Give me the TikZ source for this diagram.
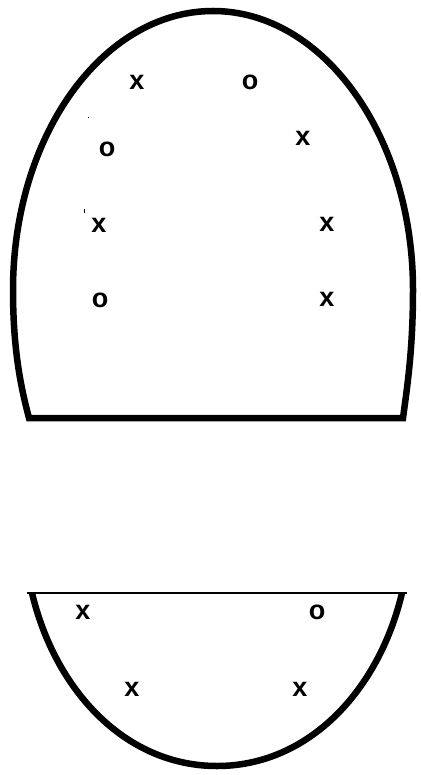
\documentclass[tikz,border=0pt]{standalone}
\usepackage{fontspec}
\setmainfont{Liberation Sans}
\begin{document}
\begin{tikzpicture}[x=1pt,y=-1pt,
  outline/.style={line width=6.5pt,line join=miter},
  glyph/.style={font=\fontsize{27}{27}\selectfont\bfseries,inner sep=0pt,anchor=center}]
\useasboundingbox (0,0) rectangle (420,775);
% upper shape
\draw[outline] (29,418) .. controls (21,388) and (13,350) .. (13,290)
  arc[start angle=180,end angle=0,x radius=200pt,y radius=279pt]
  .. controls (413,350) and (407,388) .. (403,418) -- cycle;
% lower shape
\draw[line width=1.3pt] (27,593) -- (407,593);
\draw[line width=6.5pt] (32,593) .. controls (55,690) and (125,766) .. (217,766)
  .. controls (309,766) and (379,690) .. (402,593);
% stray marks
\fill (87.5,117.5) rectangle (88.5,118.5);
\fill (83.5,209) rectangle (84.5,213);
% letters
\node[glyph] (u1) at (137,82) {x};
\node[glyph] (u2) at (250,82) {o};
\node[glyph] (u3) at (303,138) {x};
\node[glyph] (u4) at (107,149) {o};
\node[glyph] (u5) at (99,225) {x};
\node[glyph] (u6) at (327,224) {x};
\node[glyph] (u7) at (100,300) {o};
\node[glyph] (u8) at (327,299) {x};
\node[glyph] (l1) at (83,612) {x};
\node[glyph] (l2) at (317,612) {o};
\node[glyph] (l3) at (132,689) {x};
\node[glyph] (l4) at (300,689) {x};
\end{tikzpicture}
\end{document}
